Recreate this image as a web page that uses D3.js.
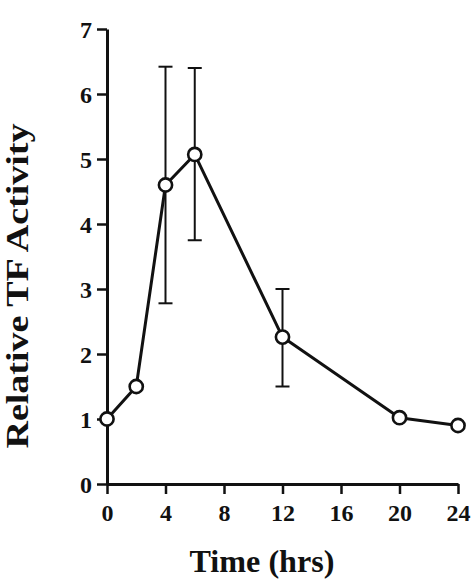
<!DOCTYPE html>
<html>
<head>
<meta charset="utf-8">
<script src="https://cdn.jsdelivr.net/npm/d3@7"></script>
<style>
  html, body { margin: 0; padding: 0; background: #fff; }
  svg { display: block; }
  text { font-family: "Liberation Serif", "Times New Roman", serif; font-weight: bold; fill: #111; }
</style>
</head>
<body>
<svg id="chart" width="476" height="580"></svg>
<script>
const times = [0, 2, 4, 6, 12, 20, 24];
const activity = [1.0, 1.5, 4.6, 5.07, 2.26, 1.02, 0.9];
const errUpper = [null, null, 6.42, 6.4, 3.0, null, null];
const errLower = [null, null, 2.78, 3.75, 1.5, null, null];
const xTicks = [0, 4, 8, 12, 16, 20, 24];
const yTicks = [0, 1, 2, 3, 4, 5, 6, 7];
const xTitle = "Time (hrs)";
const yTitle = "Relative TF Activity";

const svg = d3.select("#chart");
const x = d3.scaleLinear().domain([0, 24]).range([107, 458]);
const y = d3.scaleLinear().domain([0, 7]).range([484, 29]);
const ink = "#111";

// axes
const xAxis = svg.append("g").attr("transform", `translate(0,${y(0)})`)
  .call(d3.axisBottom(x).tickValues(xTicks).tickSize(10).tickSizeOuter(0).tickFormat(d3.format("d")));
const yAxis = svg.append("g").attr("transform", `translate(${x(0)},0)`)
  .call(d3.axisLeft(y).tickValues(yTicks).tickSize(10).tickSizeOuter(0).tickPadding(5).tickFormat(d3.format("d")));

[xAxis, yAxis].forEach(g => {
  g.attr("font-size", null).attr("font-family", null);
  g.select(".domain").attr("stroke", ink).attr("stroke-width", 3);
  g.selectAll(".tick line").attr("stroke", ink).attr("stroke-width", 2.5);
  g.selectAll(".tick text").attr("fill", ink).attr("font-size", 24).style("font-size", "24px")
    .style("font-family", '"Liberation Serif", "Times New Roman", serif').style("font-weight", "bold");
});
xAxis.selectAll(".tick text").attr("y", 37).attr("dy", 0);
yAxis.selectAll(".tick text").attr("dy", "0.34em");

// error bars
const errData = times.map((t, i) => ({t, hi: errUpper[i], lo: errLower[i]})).filter(d => d.hi !== null);
const eb = svg.append("g").attr("stroke", ink).attr("stroke-width", 2).attr("fill", "none");
errData.forEach(d => {
  eb.append("line").attr("x1", x(d.t)).attr("x2", x(d.t)).attr("y1", y(d.hi)).attr("y2", y(d.lo));
  eb.append("line").attr("x1", x(d.t) - 7).attr("x2", x(d.t) + 7).attr("y1", y(d.hi)).attr("y2", y(d.hi));
  eb.append("line").attr("x1", x(d.t) - 7).attr("x2", x(d.t) + 7).attr("y1", y(d.lo)).attr("y2", y(d.lo));
});

// line
const pts = times.map((t, i) => [t, activity[i]]);
svg.append("path").datum(pts)
  .attr("fill", "none").attr("stroke", ink).attr("stroke-width", 3).attr("stroke-linejoin", "round")
  .attr("d", d3.line().x(d => x(d[0])).y(d => y(d[1])));

// markers
svg.append("g").selectAll("circle").data(pts).join("circle")
  .attr("cx", d => x(d[0])).attr("cy", d => y(d[1])).attr("r", 6.6)
  .attr("fill", "#fff").attr("stroke", ink).attr("stroke-width", 2.6);

// titles
svg.append("text").attr("x", 262).attr("y", 572).attr("text-anchor", "middle")
  .attr("textLength", 145).attr("lengthAdjust", "spacingAndGlyphs")
  .style("font-size", "31px").text(xTitle);
svg.append("text").attr("transform", "translate(28,286) rotate(-90)").attr("text-anchor", "middle")
  .attr("textLength", 325).attr("lengthAdjust", "spacingAndGlyphs")
  .style("font-size", "31px").text(yTitle);
</script>
</body>
</html>
